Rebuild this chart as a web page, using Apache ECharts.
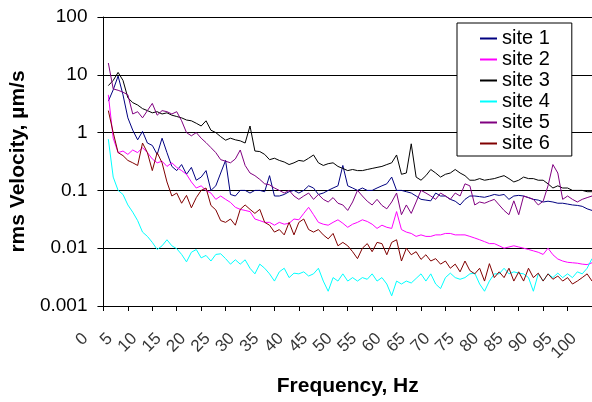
<!DOCTYPE html>
<html>
<head>
<meta charset="utf-8">
<script src="https://cdn.jsdelivr.net/npm/echarts@6/dist/echarts.min.js"></script>
<style>
  html, body { margin: 0; padding: 0; background: #ffffff; }
  #chart { width: 592px; height: 402px; }
</style>
</head>
<body>
<div id="chart"></div>
<script>
// Frequency bins (Hz)
const freqHz = [
  1, 2, 3, 4, 5, 6, 7, 8, 9, 10,
  11, 12, 13, 14, 15, 16, 17, 18, 19, 20,
  21, 22, 23, 24, 25, 26, 27, 28, 29, 30,
  31, 32, 33, 34, 35, 36, 37, 38, 39, 40,
  41, 42, 43, 44, 45, 46, 47, 48, 49, 50,
  51, 52, 53, 54, 55, 56, 57, 58, 59, 60,
  61, 62, 63, 64, 65, 66, 67, 68, 69, 70,
  71, 72, 73, 74, 75, 76, 77, 78, 79, 80,
  81, 82, 83, 84, 85, 86, 87, 88, 89, 90,
  91, 92, 93, 94, 95, 96, 97, 98, 99, 100
];

// Frequency tick labels (Hz)
const xTickLabels = [0, 5, 10, 15, 20, 25, 30, 35, 40, 45, 50, 55, 60, 65, 70, 75, 80, 85, 90, 95, 100];

// rms velocity per site, µm/s
const site1 = [
  3.5, 5.5, 9.5, 4.5, 1.8, 1.1, 0.75, 1.05, 0.66, 0.6,
  0.42, 0.8, 0.45, 0.26, 0.22, 0.28, 0.19, 0.25, 0.15, 0.17,
  0.22, 0.1, 0.12, 0.2, 0.33, 0.085, 0.08, 0.1, 0.1, 0.09,
  0.1, 0.1, 0.095, 0.18, 0.08, 0.08, 0.085, 0.095, 0.1, 0.09,
  0.1, 0.12, 0.11, 0.085, 0.09, 0.1, 0.11, 0.12, 0.27, 0.12,
  0.11, 0.1, 0.11, 0.1, 0.1, 0.11, 0.12, 0.13, 0.17, 0.1,
  0.1, 0.095, 0.09, 0.08, 0.07, 0.068, 0.066, 0.09, 0.08, 0.08,
  0.07, 0.065, 0.056, 0.07, 0.08, 0.08, 0.078, 0.076, 0.08, 0.085,
  0.082, 0.085, 0.07, 0.08, 0.082, 0.08, 0.075, 0.07, 0.068, 0.063,
  0.065, 0.063, 0.06, 0.06, 0.058, 0.056, 0.055, 0.053, 0.048, 0.045
];
const site2 = [
  4.5, 0.8, 0.45, 0.48, 0.42, 0.5, 0.45, 0.55, 0.45, 0.35,
  0.3, 0.32, 0.26, 0.3, 0.25, 0.22, 0.19, 0.14, 0.11, 0.12,
  0.1, 0.09, 0.07, 0.08, 0.07, 0.062, 0.051, 0.047, 0.045, 0.043,
  0.032, 0.03, 0.028, 0.028, 0.025, 0.028, 0.026, 0.027, 0.032, 0.031,
  0.04, 0.051, 0.038, 0.028, 0.026, 0.025, 0.028, 0.031, 0.027, 0.023,
  0.026, 0.028, 0.031, 0.029, 0.026, 0.022, 0.025, 0.023, 0.022, 0.043,
  0.021, 0.019, 0.018, 0.016, 0.017, 0.016, 0.016, 0.017, 0.017, 0.018,
  0.018, 0.017, 0.017, 0.017, 0.016, 0.015, 0.014, 0.013, 0.012, 0.012,
  0.011, 0.01, 0.0105, 0.011, 0.0105, 0.01, 0.0095, 0.009, 0.0085, 0.0078,
  0.01, 0.0077, 0.0065, 0.006, 0.0057, 0.0056, 0.0055, 0.0053, 0.0052, 0.0056
];
const site3 = [
  6.5, 8, 11, 8, 4, 3.3, 3, 2.6, 2.4, 2.2,
  2.3, 2.1, 2.2, 2.0, 1.9, 1.8, 1.65, 1.6, 1.45, 1.3,
  1.6, 1.1, 1.0, 0.85, 0.74, 0.8, 0.75, 0.72, 0.66, 1.3,
  0.48, 0.47, 0.42, 0.34, 0.36, 0.33, 0.31, 0.28, 0.3, 0.33,
  0.32, 0.36, 0.41, 0.3, 0.27, 0.29, 0.3, 0.26, 0.24, 0.22,
  0.23, 0.22, 0.22, 0.23, 0.24, 0.25, 0.26, 0.28, 0.3, 0.41,
  0.19, 0.2, 0.64, 0.17, 0.15, 0.18, 0.23, 0.2, 0.17, 0.19,
  0.2, 0.23, 0.2, 0.18, 0.15, 0.15, 0.16, 0.15, 0.155, 0.16,
  0.17, 0.18, 0.16, 0.14, 0.15, 0.17, 0.16, 0.16, 0.15, 0.15,
  0.13, 0.11, 0.12, 0.11, 0.11, 0.1, 0.1, 0.1, 0.095, 0.095
];
const site4 = [
  0.77, 0.17, 0.1, 0.085, 0.056, 0.042, 0.03, 0.019, 0.016, 0.0126,
  0.0095, 0.011, 0.014, 0.011, 0.0098, 0.0078, 0.0058, 0.0085, 0.0095, 0.0068,
  0.0075, 0.006, 0.0078, 0.008, 0.0066, 0.0053, 0.0063, 0.0053, 0.0063, 0.0045,
  0.0036, 0.0053, 0.0045, 0.0036, 0.0027, 0.0039, 0.0045, 0.0031, 0.0037, 0.0036,
  0.0039, 0.0033, 0.0036, 0.0045, 0.0027, 0.0018, 0.0031, 0.0027, 0.0036, 0.0027,
  0.0031, 0.0027, 0.0031, 0.0029, 0.0036, 0.0027, 0.0031, 0.0024, 0.0015, 0.0027,
  0.0024, 0.0027, 0.0025, 0.003, 0.0036, 0.0027, 0.0036, 0.0024, 0.002, 0.0031,
  0.0037, 0.0031, 0.0029, 0.0031, 0.0036, 0.0037, 0.0024, 0.0018, 0.0027, 0.0036,
  0.0036, 0.0045, 0.0036, 0.0039, 0.0037, 0.0036, 0.0031, 0.0018, 0.0036, 0.0027,
  0.0036, 0.0031, 0.0037, 0.0031, 0.0036, 0.0031, 0.0039, 0.0036, 0.0045, 0.0066
];
const site5 = [
  16, 5.7, 5.4, 5, 4.5, 2.1, 2.3, 1.8, 2.4, 3.2,
  2.0, 2.4, 2.3, 2.1, 2.3, 1.6, 1.0, 0.88, 1.0, 0.8,
  0.67, 0.55, 0.45, 0.34, 0.32, 0.3, 0.35, 0.5, 0.27, 0.2,
  0.18, 0.155, 0.13, 0.125, 0.11, 0.1, 0.09, 0.1, 0.08, 0.07,
  0.08, 0.09, 0.07, 0.085, 0.07, 0.063, 0.075, 0.06, 0.056, 0.045,
  0.063, 0.1, 0.08, 0.065, 0.056, 0.07, 0.055, 0.048, 0.063, 0.09,
  0.038, 0.056, 0.04, 0.063, 0.1, 0.09, 0.08, 0.07, 0.09, 0.08,
  0.07, 0.09, 0.08, 0.13, 0.12, 0.056, 0.063, 0.06, 0.065, 0.07,
  0.056, 0.045, 0.038, 0.066, 0.038, 0.08, 0.075, 0.07, 0.056, 0.065,
  0.12, 0.28, 0.2, 0.07, 0.08, 0.07, 0.063, 0.07, 0.075, 0.08
];
const site6 = [
  2.4, 1.0, 0.45, 0.4, 0.33, 0.3, 0.27, 0.66, 0.45, 0.22,
  0.45, 0.3, 0.14, 0.08, 0.09, 0.06, 0.082, 0.05, 0.075, 0.1,
  0.11, 0.055, 0.046, 0.03, 0.028, 0.032, 0.025, 0.047, 0.056, 0.047,
  0.04, 0.047, 0.028, 0.025, 0.019, 0.021, 0.017, 0.028, 0.017, 0.028,
  0.032, 0.021, 0.019, 0.021, 0.017, 0.0145, 0.018, 0.011, 0.0126, 0.011,
  0.0087, 0.0066, 0.01, 0.012, 0.0087, 0.0126, 0.012, 0.0077, 0.0126, 0.014,
  0.006, 0.01, 0.0077, 0.0087, 0.0064, 0.0077, 0.006, 0.0066, 0.0053, 0.006,
  0.0045, 0.0053, 0.0039, 0.006, 0.0041, 0.0036, 0.0045, 0.0027, 0.0054, 0.0031,
  0.0039, 0.0031, 0.0045, 0.0027, 0.0039, 0.0027, 0.0045, 0.0031, 0.0037, 0.0027,
  0.0036, 0.0029, 0.0033, 0.0027, 0.0031, 0.0024, 0.0027, 0.0031, 0.0036, 0.0027
];

const seriesNames = ['site 1', 'site 2', 'site 3', 'site 4', 'site 5', 'site 6'];
const seriesValues = [site1, site2, site3, site4, site5, site6];
const seriesColors = ['#000080', '#ff00ff', '#000000', '#00ffff', '#800080', '#800000'];

// Decade labels of the logarithmic velocity axis
const yTickLabels = ['0.001', '0.01', '0.1', '1', '10', '100'];
const Y_FLOOR = 0.001;

const FONT = "'Liberation Sans', Arial, sans-serif";

const chart = echarts.init(document.getElementById('chart'), null, { renderer: 'canvas' });

const lineSeries = seriesNames.map(function (name, i) {
  return {
    name: name,
    type: 'line',
    symbol: 'none',
    color: seriesColors[i],
    lineStyle: { color: seriesColors[i], width: 1 },
    data: freqHz.map(function (f, j) { return [f, seriesValues[i][j]]; })
  };
});

// Slanted frequency labels hung beneath the axis ticks, ending left of each tick
const tickLabelSeries = {
  name: 'frequency ticks',
  type: 'scatter',
  symbol: 'circle',
  symbolSize: 0.1,
  silent: true,
  clip: false,
  z: 5,
  itemStyle: { color: 'rgba(0,0,0,0)' },
  label: {
    show: true,
    position: [-18, 30],
    rotate: 45,
    align: 'right',
    verticalAlign: 'middle',
    fontFamily: FONT,
    fontSize: 17,
    color: '#000000',
    formatter: function (p) { return String(p.value[0]); }
  },
  data: xTickLabels.map(function (v) { return [v, Y_FLOOR]; })
};

chart.setOption({
  animation: false,
  backgroundColor: '#ffffff',
  tooltip: { show: false },
  grid: { left: 93, top: 17, width: 500, height: 293, containLabel: false },
  legend: {
    orient: 'vertical',
    left: 457,
    top: 23,
    padding: [5, 22, 2, 23],
    itemGap: 0,
    itemWidth: 17,
    itemHeight: 2,
    icon: 'rect',
    backgroundColor: '#ffffff',
    borderColor: '#000000',
    borderWidth: 1,
    data: seriesNames,
    textStyle: { fontFamily: FONT, fontSize: 20, color: '#000000', lineHeight: 21 }
  },
  xAxis: {
    type: 'value',
    min: 0,
    max: 100,
    interval: 5,
    name: 'Frequency, Hz',
    nameLocation: 'middle',
    nameGap: 70,
    nameTextStyle: { fontFamily: FONT, fontSize: 21, fontWeight: 'bold', color: '#000000' },
    axisLine: { show: true, lineStyle: { color: '#000000', width: 1 } },
    axisTick: { show: true, inside: false, length: 5, lineStyle: { color: '#000000' } },
    splitLine: { show: false },
    axisLabel: { show: false }
  },
  yAxis: {
    type: 'log',
    logBase: 10,
    min: Y_FLOOR,
    max: 100,
    name: 'rms Velocity, µm/s',
    nameLocation: 'middle',
    nameGap: 60,
    nameRotate: 90,
    nameTextStyle: { fontFamily: FONT, fontSize: 21, fontWeight: 'bold', color: '#000000' },
    axisLine: { show: true, lineStyle: { color: '#000000', width: 1 } },
    axisTick: { show: true, inside: false, length: 6, lineStyle: { color: '#000000' } },
    minorTick: { show: false },
    splitLine: { show: true, lineStyle: { color: '#000000', width: 1 } },
    axisLabel: {
      margin: 16,
      fontFamily: FONT,
      fontSize: 19,
      color: '#000000',
      formatter: function (v) {
        const k = Math.round(Math.log10(v)) + 3;
        return yTickLabels[k] !== undefined ? yTickLabels[k] : '';
      }
    }
  },
  series: lineSeries.concat([tickLabelSeries])
});
</script>
</body>
</html>
